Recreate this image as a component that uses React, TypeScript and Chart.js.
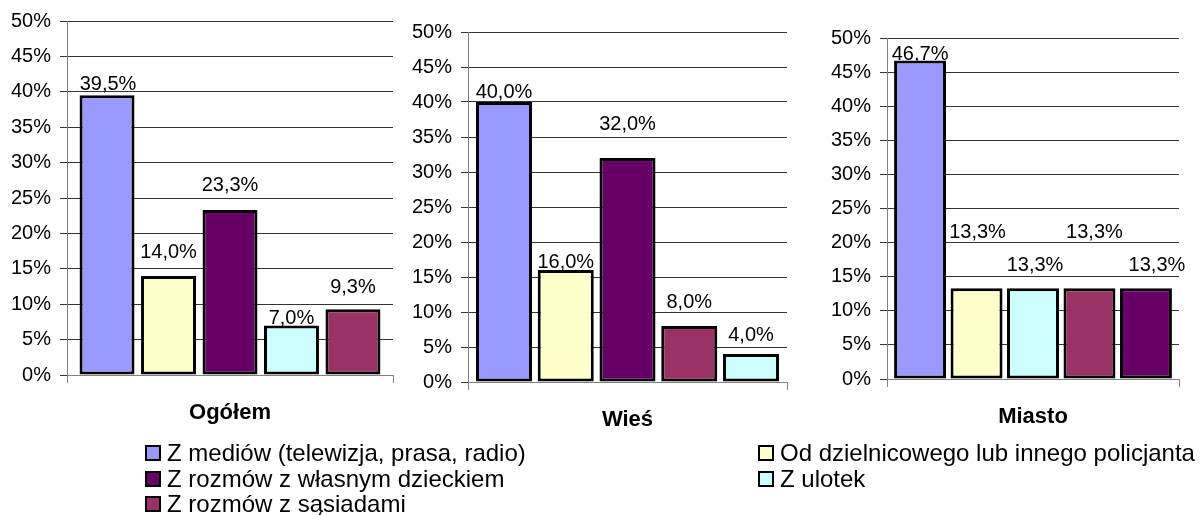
import React, { useEffect, useRef } from 'react';
import { Chart, registerables } from 'chart.js';

Chart.register(...registerables);

const FONT = '"Liberation Sans", Arial, sans-serif';

const seriesNames = [
  'Z mediów (telewizja, prasa, radio)',
  'Od dzielnicowego lub innego policjanta',
  'Z rozmów z własnym dzieckiem',
  'Z ulotek',
  'Z rozmów z sąsiadami',
];
const seriesColors = ['#9999FF', '#FFFFCC', '#660066', '#CCFFFF', '#993366'];

const panelTitles = ['Ogółem', 'Wieś', 'Miasto'];

// series order (indices into seriesNames) and values per panel
const ogolemOrder = [0, 1, 2, 3, 4];
const ogolemValues = [39.5, 14.0, 23.3, 7.0, 9.3];
const wiesOrder = [0, 1, 2, 4, 3];
const wiesValues = [40.0, 16.0, 32.0, 8.0, 4.0];
const miastoOrder = [0, 1, 3, 4, 2];
const miastoValues = [46.7, 13.3, 13.3, 13.3, 13.3];

const yMin = 0;
const yMax = 50;
const yStep = 5;

// layout / style per panel (pixels)
const panelLayouts = [
  { left: 0, width: 400, axisWidth: 67, padRight: 7, padTop: 20, xHeight: 65, catPct: 0.943, barPct: 0.894, lift: [11, 23, 25, 7, 22], shift: [1, 0, 0, 0, 0] },
  { left: 400, width: 395, axisWidth: 68, padRight: 8, padTop: 32, xHeight: 58, catPct: 0.968, barPct: 0.907, lift: [10, 8, 34, 24, 19], shift: [0, 0, 0, 0, 0] },
  { left: 800, width: 401, axisWidth: 87, padRight: 22, padTop: 38, xHeight: 61, catPct: 0.967, barPct: 0.92, lift: [6, 56, 23, 56, 23], shift: [0, 1, 2, 5, 11] },
];
const CANVAS_H = 440;

const fmt = (v: number) => v.toFixed(1).replace('.', ',') + '%';

const barLabelPlugin = {
  id: 'barLabels',
  afterDatasetsDraw(chart: any, _args: any, opts: any) {
    const ctx = chart.ctx;
    ctx.save();
    ctx.font = `20px ${FONT}`;
    ctx.fillStyle = '#000';
    ctx.textAlign = 'center';
    ctx.textBaseline = 'middle';
    chart.data.datasets.forEach((ds: any, i: number) => {
      const meta = chart.getDatasetMeta(i);
      const bar: any = meta.data[0];
      if (!bar) return;
      const lift = (opts.lift && opts.lift[i]) || 10;
      const shift = (opts.shift && opts.shift[i]) || 0;
      ctx.fillText(fmt(ds.data[0]), bar.x + shift, bar.y - lift);
    });
    ctx.restore();
  },
};

function Panel({ idx, order, values }: { idx: number; order: number[]; values: number[] }) {
  const ref = useRef<HTMLCanvasElement>(null);
  const L = panelLayouts[idx];
  useEffect(() => {
    if (!ref.current) return;
    const chart = new Chart(ref.current, {
      type: 'bar',
      data: {
        labels: [panelTitles[idx]],
        datasets: order.map((si, k) => ({
          label: seriesNames[si],
          data: [values[k]],
          backgroundColor: seriesColors[si],
          borderColor: '#000',
          borderWidth: 3,
          borderSkipped: false,
          categoryPercentage: L.catPct,
          barPercentage: L.barPct,
        })),
      },
      options: {
        animation: false,
        responsive: false,
        devicePixelRatio: 1,
        layout: { padding: { top: L.padTop, right: L.padRight, left: 0, bottom: 0 } },
        plugins: {
          legend: { display: false },
          tooltip: { enabled: false },
          barLabels: { lift: L.lift, shift: L.shift },
        } as any,
        scales: {
          x: {
            grid: { display: true, drawOnChartArea: false, drawTicks: true, tickLength: 8, color: '#808080', offset: true },
            border: { color: '#808080', width: 1 },
            ticks: { font: { family: FONT, size: 22, weight: 'bold' }, color: '#000', padding: 17 },
            afterFit: (s: any) => { s.height = L.xHeight; },
          },
          y: {
            min: yMin,
            max: yMax,
            ticks: { stepSize: yStep, callback: (v: any) => v + '%', font: { family: FONT, size: 20 }, color: '#000', padding: 9 },
            grid: { color: '#333', tickLength: 7, lineWidth: 1 },
            border: { color: '#808080', width: 1 },
            afterFit: (s: any) => { s.width = L.axisWidth; },
          },
        },
      } as any,
      plugins: [barLabelPlugin],
    });
    return () => chart.destroy();
  }, []);
  return (
    <canvas
      ref={ref}
      width={L.width}
      height={CANVAS_H}
      style={{ position: 'absolute', left: L.left, top: 0, width: L.width, height: CANVAS_H }}
    />
  );
}

const legendRows = [
  [0, 1],
  [2, 3],
  [4],
];
const legendColX = [145, 758];
const legendRowY = [453, 479, 504];

export default function App() {
  return (
    <div style={{ position: 'fixed', left: 0, top: 0, width: 1201, height: 515, background: '#fff', overflow: 'hidden' }}>
      <Panel idx={0} order={ogolemOrder} values={ogolemValues} />
      <Panel idx={1} order={wiesOrder} values={wiesValues} />
      <Panel idx={2} order={miastoOrder} values={miastoValues} />
      {legendRows.map((row, r) =>
        row.map((si, c) => (
          <div
            key={`${r}-${c}`}
            style={{
              position: 'absolute',
              left: legendColX[c],
              top: legendRowY[r] - 14,
              height: 28,
              display: 'flex',
              alignItems: 'center',
              whiteSpace: 'nowrap',
              fontFamily: FONT,
              fontSize: 24,
              color: '#000',
            }}
          >
            <span
              style={{
                display: 'inline-block',
                width: 16,
                height: 16,
                boxSizing: 'border-box',
                border: '2px solid #000',
                background: seriesColors[si],
                marginRight: 6,
              }}
            />
            <span>{seriesNames[si]}</span>
          </div>
        ))
      )}
    </div>
  );
}
